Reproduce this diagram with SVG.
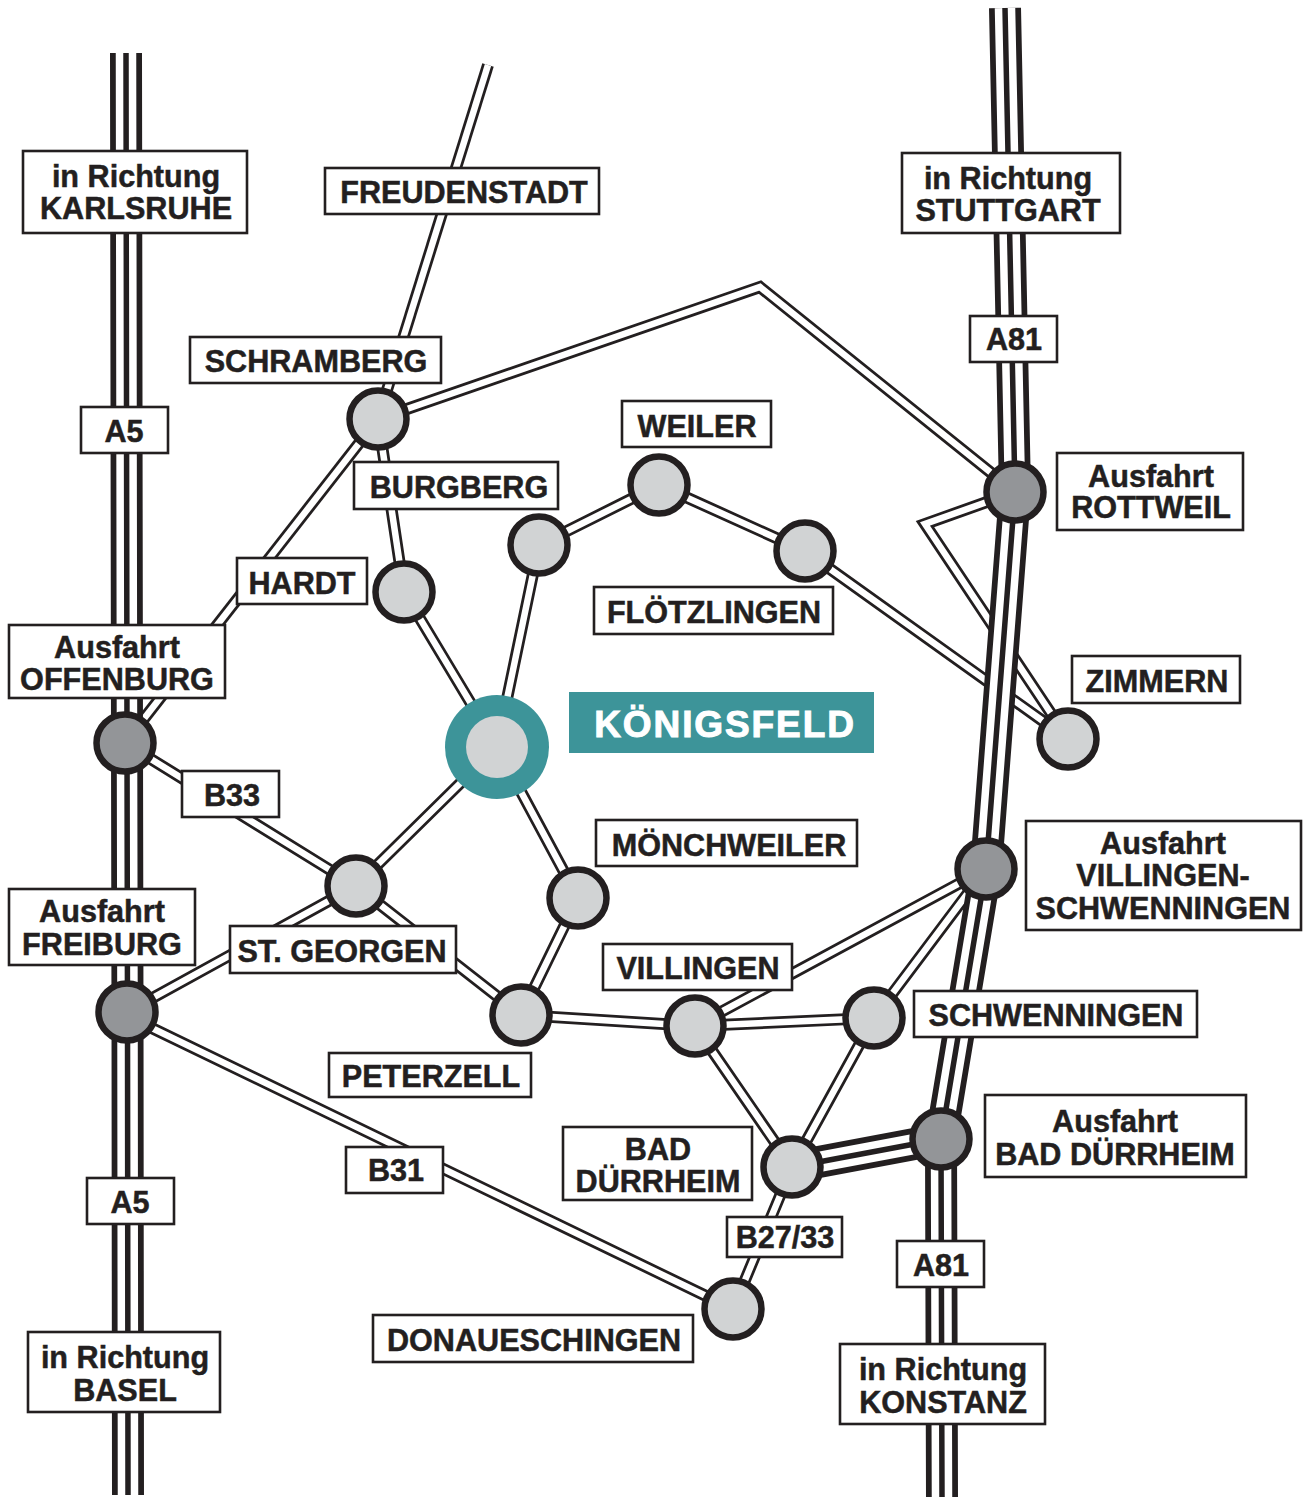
<svg xmlns="http://www.w3.org/2000/svg" width="1306" height="1499" viewBox="0 0 1306 1499">
<defs>
<style>
.rb,.rt,.mb,.mw,.mc{fill:none;stroke-linejoin:miter;stroke-miterlimit:10}
.rb{stroke:#231f20;stroke-width:12}
.rt{stroke:#fff;stroke-width:6.5}
.mb{stroke:#231f20;stroke-width:32}
.mw{stroke:#fff;stroke-width:20.5}
.mc{stroke:#231f20;stroke-width:5.5}
.n{fill:#d1d3d4;stroke:#231f20;stroke-width:6.5}
.x{fill:#939598;stroke:#231f20;stroke-width:6.5}
.b{fill:#fff;stroke:#231f20;stroke-width:2.6}
text{font-family:"Liberation Sans",Arial,sans-serif;font-weight:700;font-size:30.6px;fill:#231f20;stroke:#231f20;stroke-width:.5;text-anchor:middle}
</style>
<path id="r1" d="M488 65L378 419"/>
<path id="r2" d="M378 419L760 287L1015 492"/>
<path id="r3" d="M378 419L125 743"/>
<path id="r4" d="M378 419L404 592L497 747"/>
<path id="r5" d="M497 747L539 545L659 485L805 551L1068 739"/>
<path id="r6" d="M1015 492L925 524L1068 739"/>
<path id="r7" d="M125 743L356 886L497 747L578 898L521 1015L356 886L127 1012"/>
<path id="r8" d="M521 1015L695 1026L874 1018L986 869L695 1026L792 1167L874 1018"/>
<path id="r9" d="M127 1016L733 1309L792 1167"/>
<path id="m1" d="M126 53L127 743L127.5 1012L128 1495"/>
<path id="m2" d="M1005 8L1015 492L986 869L941 1139L942 1497"/>
<path id="m3" d="M792 1167L941 1139"/>
</defs>
<g id="connectors">
<use href="#r1" class="rb"/><use href="#r1" class="rt"/>
<use href="#r2" class="rb"/><use href="#r2" class="rt"/>
<use href="#r3" class="rb"/><use href="#r3" class="rt"/>
<use href="#r4" class="rb"/><use href="#r4" class="rt"/>
<use href="#r5" class="rb"/><use href="#r5" class="rt"/>
<use href="#r6" class="rb"/><use href="#r6" class="rt"/>
<use href="#r7" class="rb"/><use href="#r7" class="rt"/>
<use href="#r8" class="rb"/><use href="#r8" class="rt"/>
<use href="#r9" class="rb"/><use href="#r9" class="rt"/>
<use href="#m1" class="mb"/><use href="#m1" class="mw"/><use href="#m1" class="mc"/>
<use href="#m2" class="mb"/><use href="#m2" class="mw"/><use href="#m2" class="mc"/>
<use href="#m3" class="mb"/><use href="#m3" class="mw"/><use href="#m3" class="mc"/>
</g>
<g id="node-offenburg"><circle class="x" cx="125" cy="743" r="28.5"/><rect class="b" x="9" y="625" width="216" height="73"/><text x="117" y="658">Ausfahrt</text><text x="117" y="690">OFFENBURG</text></g>
<g id="node-freiburg"><circle class="x" cx="127" cy="1012" r="28.5"/><rect class="b" x="9" y="889" width="186" height="76"/><text x="102" y="922">Ausfahrt</text><text x="102" y="955">FREIBURG</text></g>
<g id="node-rottweil"><circle class="x" cx="1015" cy="492" r="28.5"/><rect class="b" x="1057" y="453" width="186" height="77"/><text x="1151" y="487">Ausfahrt</text><text x="1151" y="518">ROTTWEIL</text></g>
<g id="node-vs"><circle class="x" cx="986" cy="869" r="28.5"/><rect class="b" x="1026" y="821" width="275" height="109"/><text x="1163" y="854">Ausfahrt</text><text x="1163" y="886">VILLINGEN-</text><text x="1163" y="919">SCHWENNINGEN</text></g>
<g id="node-bd-exit"><circle class="x" cx="941" cy="1139" r="28.5"/><rect class="b" x="985" y="1095" width="261" height="82"/><text x="1115" y="1132">Ausfahrt</text><text x="1115" y="1165">BAD DÜRRHEIM</text></g>
<g id="node-schramberg"><circle class="n" cx="378" cy="419" r="28.5"/><rect class="b" x="190" y="337" width="251" height="46"/><text x="316" y="372">SCHRAMBERG</text></g>
<g id="node-hardt"><circle class="n" cx="404" cy="592" r="28.5"/><rect class="b" x="237" y="558" width="130" height="46"/><text x="302" y="594">HARDT</text></g>
<g id="node-burgberg"><circle class="n" cx="539" cy="545" r="28.5"/><rect class="b" x="354" y="462" width="204" height="47"/><text x="459" y="498">BURGBERG</text></g>
<g id="node-weiler"><circle class="n" cx="659" cy="485" r="28.5"/><rect class="b" x="622" y="401" width="149" height="46"/><text x="697" y="437">WEILER</text></g>
<g id="node-floetzlingen"><circle class="n" cx="805" cy="551" r="28.5"/><rect class="b" x="594" y="587" width="239" height="47"/><text x="714" y="623">FLÖTZLINGEN</text></g>
<g id="node-zimmern"><circle class="n" cx="1068" cy="739" r="28.5"/><rect class="b" x="1072" y="656" width="168" height="47"/><text x="1157" y="692">ZIMMERN</text></g>
<g id="node-koenigsfeld"><circle cx="497" cy="747" r="52" fill="#3d9499"/><circle cx="497" cy="747" r="31" fill="#d1d3d4"/><rect x="569" y="692" width="305" height="61" fill="#3d9499"/><text x="725" y="737" style="fill:#fff;stroke:#fff;stroke-width:1;font-size:37px;letter-spacing:1.9px">KÖNIGSFELD</text></g>
<g id="node-moenchweiler"><circle class="n" cx="578" cy="898" r="28.5"/><rect class="b" x="596" y="820" width="261" height="46"/><text x="729" y="856">MÖNCHWEILER</text></g>
<g id="node-stgeorgen"><circle class="n" cx="356" cy="886" r="28.5"/><rect class="b" x="230" y="926" width="226" height="47"/><text x="342" y="962">ST. GEORGEN</text></g>
<g id="node-peterzell"><circle class="n" cx="521" cy="1015" r="28.5"/><rect class="b" x="329" y="1053" width="202" height="44"/><text x="431" y="1087">PETERZELL</text></g>
<g id="node-villingen"><circle class="n" cx="695" cy="1026" r="28.5"/><rect class="b" x="603" y="944" width="189" height="46"/><text x="698" y="979">VILLINGEN</text></g>
<g id="node-schwenningen"><circle class="n" cx="874" cy="1018" r="28.5"/><rect class="b" x="914" y="991" width="283" height="46"/><text x="1056" y="1026">SCHWENNINGEN</text></g>
<g id="node-baddurrheim"><circle class="n" cx="792" cy="1167" r="28.5"/><rect class="b" x="563" y="1127" width="189" height="73"/><text x="658" y="1160">BAD</text><text x="658" y="1192">DÜRRHEIM</text></g>
<g id="node-donaueschingen"><circle class="n" cx="733" cy="1309" r="28.5"/><rect class="b" x="373" y="1315" width="320" height="47"/><text x="534" y="1351">DONAUESCHINGEN</text></g>
<g id="label-karlsruhe"><rect class="b" x="23" y="151" width="224" height="82"/><text x="136" y="187">in Richtung</text><text x="136" y="219">KARLSRUHE</text></g>
<g id="label-freudenstadt"><rect class="b" x="325" y="168" width="274" height="46"/><text x="464" y="203">FREUDENSTADT</text></g>
<g id="label-stuttgart"><rect class="b" x="902" y="153" width="218" height="80"/><text x="1008" y="189">in Richtung</text><text x="1008" y="221">STUTTGART</text></g>
<g id="label-a81-top"><rect class="b" x="970" y="316" width="87" height="46"/><text x="1014" y="350">A81</text></g>
<g id="label-a5-top"><rect class="b" x="81" y="407" width="87" height="46"/><text x="124" y="442">A5</text></g>
<g id="label-b33"><rect class="b" x="182" y="771" width="97" height="46"/><text x="232" y="806">B33</text></g>
<g id="label-b31"><rect class="b" x="346" y="1147" width="97" height="46"/><text x="396" y="1181">B31</text></g>
<g id="label-b2733"><rect class="b" x="727" y="1217" width="115" height="40"/><text x="785" y="1248">B27/33</text></g>
<g id="label-a5-bottom"><rect class="b" x="87" y="1178" width="87" height="46"/><text x="130" y="1213">A5</text></g>
<g id="label-a81-bottom"><rect class="b" x="897" y="1241" width="87" height="46"/><text x="941" y="1276">A81</text></g>
<g id="label-basel"><rect class="b" x="28" y="1332" width="192" height="80"/><text x="125" y="1368">in Richtung</text><text x="125" y="1401">BASEL</text></g>
<g id="label-konstanz"><rect class="b" x="840" y="1344" width="205" height="80"/><text x="943" y="1380">in Richtung</text><text x="943" y="1413">KONSTANZ</text></g>
</svg>
